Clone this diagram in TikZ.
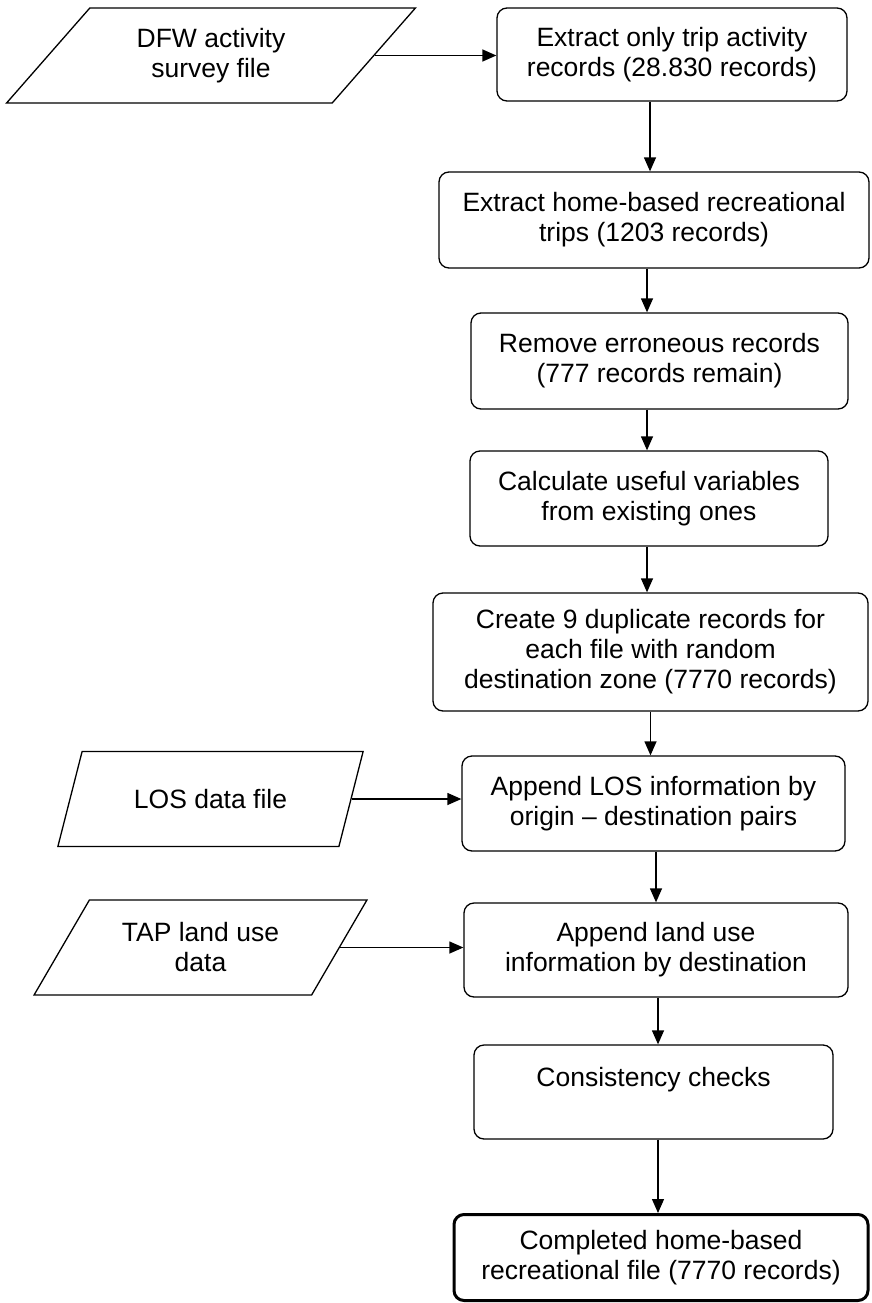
\documentclass[tikz,border=0pt]{standalone}
\usepackage{fontspec}
\setmainfont{Liberation Sans}
\usetikzlibrary{shapes.geometric,arrows.meta}

\tikzset{
  process/.style={draw, rounded corners=10pt, align=center, line width=1.3pt,
    font=\fontsize{26.5}{30}\selectfont},
  datafile/.style={draw, trapezium, trapezium stretches=true, align=center,
    line width=1.3pt, minimum height=95pt, font=\fontsize{26.5}{30}\selectfont},
  flow/.style={-{Triangle[length=14pt,width=12pt]}, line width=1.3pt},
}

\begin{document}
\begin{tikzpicture}[x=1pt,y=-1pt]
  \useasboundingbox (0,0) rectangle (871,1303);
  % input files
  \node[datafile, trapezium left angle=49, trapezium right angle=131,
    minimum width=409pt] (dfw) at (211,55.5) {DFW activity\\survey file};
  \node[datafile, trapezium left angle=60, trapezium right angle=120,
    minimum width=306pt] (los) at (210.5,799) {LOS data file};
  \node[datafile, trapezium left angle=54, trapezium right angle=126,
    minimum width=333pt] (tap) at (200.5,947.5) {TAP land use\\data};
  % processing steps
  \node[process, minimum width=350pt, minimum height=93pt] (trips) at (672,54.5)
    {Extract only trip activity\\records (28.830 records)};
  \node[process, minimum width=430pt, minimum height=96pt] (hbrec) at (654,220)
    {Extract home-based recreational\\trips (1203 records)};
  \node[process, minimum width=377pt, minimum height=96pt] (clean) at (659.5,361)
    {Remove erroneous records\\(777 records remain)};
  \node[process, minimum width=358pt, minimum height=95pt] (calc) at (649,498.5)
    {Calculate useful variables\\from existing ones};
  \node[process, minimum width=435pt, minimum height=118pt] (dupl) at (650.5,652)
    {Create 9 duplicate records for\\each file with random\\destination zone (7770 records)};
  \node[process, minimum width=383pt, minimum height=95pt] (appLOS) at (653.5,803.5)
    {Append LOS information by\\origin – destination pairs};
  \node[process, minimum width=384pt, minimum height=94pt] (appLU) at (656,950)
    {Append land use\\information by destination};
  \node[process, minimum width=359pt, minimum height=94pt] (check) at (653.5,1092)
    {Consistency checks\\~};
  \node[process, line width=3pt, minimum width=414pt, minimum height=86pt] (final) at (661,1257.5)
    {Completed home-based\\recreational file (7770 records)};

  % connectors
  \draw[flow] (dfw.right side) -- (dfw.right side -| trips.west);
  \draw[flow] (los.right side) -- (los.right side -| appLOS.west);
  \draw[flow] (tap.right side) -- (tap.right side -| appLU.west);
  \draw[flow] ([xshift=-22pt]trips.south) -- ([xshift=-22pt]trips.south |- hbrec.north);
  \draw[flow] ([xshift=-7pt]hbrec.south) -- ([xshift=-7pt]hbrec.south |- clean.north);
  \draw[flow] ([xshift=-12.5pt]clean.south) -- ([xshift=-12.5pt]clean.south |- calc.north);
  \draw[flow] ([xshift=-2pt]calc.south) -- ([xshift=-2pt]calc.south |- dupl.north);
  \draw[flow] (dupl.south) -- (dupl.south |- appLOS.north);
  \draw[flow] ([xshift=2.5pt]appLOS.south) -- ([xshift=2.5pt]appLOS.south |- appLU.north);
  \draw[flow] ([xshift=2pt]appLU.south) -- ([xshift=2pt]appLU.south |- check.north);
  \draw[flow] ([xshift=4.5pt]check.south) -- ([xshift=4.5pt]check.south |- final.north);
\end{tikzpicture}
\end{document}
